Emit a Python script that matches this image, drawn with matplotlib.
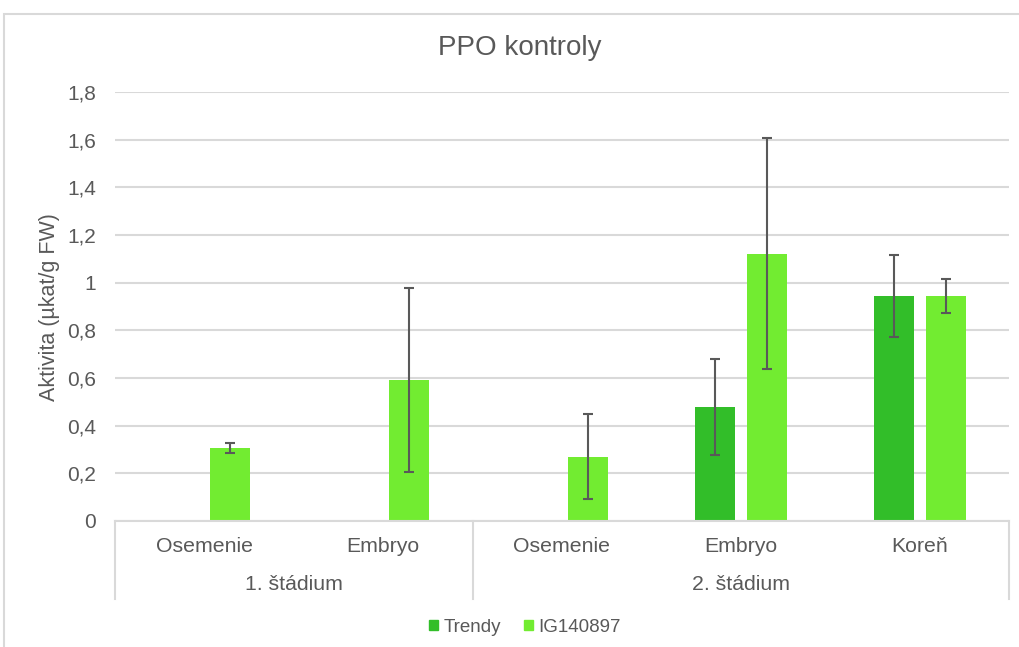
import numpy as np
import matplotlib
matplotlib.use('Agg')
import matplotlib.pyplot as plt
from matplotlib.lines import Line2D
from matplotlib.patches import Rectangle

categories = ['Osemenie', 'Embryo', 'Osemenie', 'Embryo', 'Koreň']
groups = ['1. štádium', '2. štádium']
group_sizes = [2, 3]
trendy = [0, 0, 0, 0.478, 0.944]
trendy_err = [0, 0, 0, 0.2, 0.173]
ig = [0.306, 0.592, 0.27, 1.122, 0.944]
ig_err = [0.021, 0.385, 0.177, 0.483, 0.073]
series_names = ['Trendy', 'IG140897']
yticks = [0, 0.2, 0.4, 0.6, 0.8, 1, 1.2, 1.4, 1.6, 1.8]
ytick_labels = ['0', '0,2', '0,4', '0,6', '0,8', '1', '1,2', '1,4', '1,6', '1,8']

c_trendy = '#32BE29'
c_ig = '#72EC31'
txt = '#595959'
grid = '#D9D9D9'

plt.rcParams['font.family'] = ['Liberation Sans', 'DejaVu Sans']

fig = plt.figure(figsize=(10.2, 6.47), dpi=100)
W, H = 1020, 647
ax = fig.add_axes([115 / W, 1 - 521 / H, (1009 - 115) / W, (521 - 92) / H])

x = np.arange(len(categories))
bw = 0.224
off = 0.145
ax.bar(x - off, trendy, bw, color=c_trendy, zorder=2)
ax.bar(x + off, ig, bw, color=c_ig, zorder=2)

ekw = dict(fmt='none', ecolor='#595959', elinewidth=1.5, capsize=3.6, capthick=1.5, zorder=3)
tx = [xi - off for xi, e in zip(x, trendy_err) if e > 0]
ty = [v for v, e in zip(trendy, trendy_err) if e > 0]
te = [e for e in trendy_err if e > 0]
ax.errorbar(tx, ty, yerr=te, **ekw)
ax.errorbar(x + off, ig, yerr=ig_err, **ekw)

ax.set_xlim(-0.5, len(categories) - 0.5)
ax.set_ylim(0, 1.8)
ax.set_yticks(yticks)
ax.set_yticklabels(ytick_labels)
ax.tick_params(axis='y', length=0, pad=13.5, labelsize=15, labelcolor=txt)
ax.set_xticks([])
ax.grid(axis='y', color=grid, linewidth=1.5, zorder=0)
ax.set_axisbelow(True)
for s in ['top', 'right', 'left']:
    ax.spines[s].set_visible(False)
ax.spines['bottom'].set_color(grid)
ax.spines['bottom'].set_linewidth(1.5)

fig.text(50 / W, 1 - 307 / H, 'Aktivita (µkat/g FW)', rotation=90, ha='center', va='center',
         fontsize=15.5, color=txt)
fig.text(520 / W, 1 - 48 / H, 'PPO kontroly', ha='center', va='center', fontsize=20, color=txt)

# category axis below plot
tr = ax.get_xaxis_transform()
for xi, c in zip(x, categories):
    ax.text(xi, -26 / 429, c, transform=tr, ha='center', va='center', fontsize=15.3, color=txt)
bounds = np.concatenate([[0], np.cumsum(group_sizes)]) - 0.5
for i, g in enumerate(groups):
    ax.text((bounds[i] + bounds[i + 1]) / 2, -64 / 429, g, transform=tr, ha='center', va='center',
            fontsize=15.3, color=txt)
for b in bounds:
    ax.add_line(Line2D([b, b], [0, -78 / 429], transform=tr, color=grid, lw=1.5, clip_on=False))

handles = [Rectangle((0, 0), 1, 1, color=c_trendy), Rectangle((0, 0), 1, 1, color=c_ig)]
fig.legend(handles, series_names, loc='center', bbox_to_anchor=(525 / W, 1 - 627 / H), ncol=2,
           frameon=False, fontsize=13.5, labelcolor=txt, handlelength=0.5, handleheight=0.5,
           handletextpad=0.3, columnspacing=1.2)

fig.add_artist(Rectangle((4 / W, -0.01), 1.02 - 4 / W, 1 - 14 / H + 0.01, transform=fig.transFigure,
                         fill=False, edgecolor=grid, lw=1.5))

fig.savefig('out.png', dpi=100)
